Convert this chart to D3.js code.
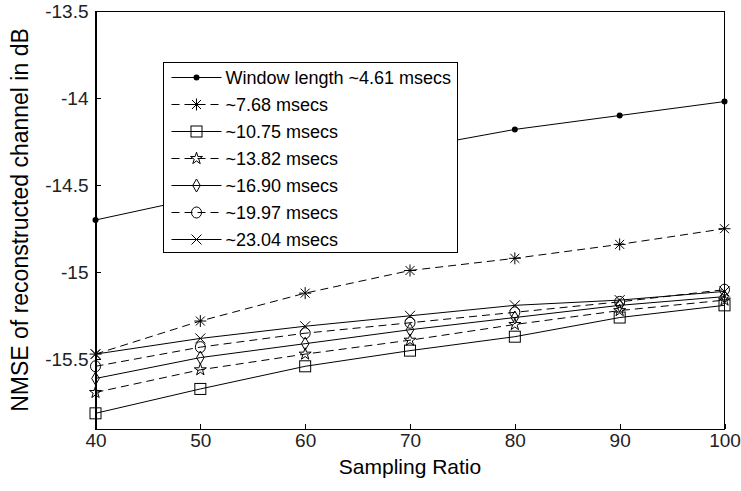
<!DOCTYPE html>
<html>
<head>
<meta charset="utf-8">
<script src="https://cdnjs.cloudflare.com/ajax/libs/d3/7.8.5/d3.min.js"></script>
<style>
  body { margin: 0; background: #fff; }
  svg { display: block; font-family: Arial, "Liberation Sans", sans-serif; }
  .axis text { font-size: 19px; fill: #222; }
  .axis path, .axis line { stroke: #000; shape-rendering: crispEdges; }
  .axisTitle { font-size: 21px; fill: #000; }
  .legend text { font-size: 18px; fill: #000; }
  .series { fill: none; stroke: #000; stroke-width: 1; }
</style>
</head>
<body>
<div id="chart"></div>
<script>
// sampling ratio on the x axis
var samplingRatio = [40, 50, 60, 70, 80, 90, 100];

// NMSE (dB) for each window length
var win461 = [-14.70, -14.57, -14.43, -14.29, -14.18, -14.10, -14.02];
var win768 = [-15.47, -15.28, -15.12, -14.99, -14.92, -14.84, -14.75];
var win1075 = [-15.81, -15.67, -15.54, -15.45, -15.37, -15.26, -15.19];
var win1382 = [-15.69, -15.56, -15.47, -15.39, -15.30, -15.22, -15.16];
var win1690 = [-15.61, -15.49, -15.41, -15.33, -15.26, -15.19, -15.14];
var win1997 = [-15.54, -15.43, -15.35, -15.29, -15.23, -15.17, -15.10];
var win2304 = [-15.47, -15.38, -15.31, -15.25, -15.19, -15.16, -15.11];

var legendLabels = [
  "Window length ~4.61 msecs",
  "~7.68 msecs",
  "~10.75 msecs",
  "~13.82 msecs",
  "~16.90 msecs",
  "~19.97 msecs",
  "~23.04 msecs"
];
var markerTypes = ["dot", "asterisk", "square", "star", "diamond", "circle", "cross"];
var dashed = [false, true, false, true, false, true, false];

var xTicks = [40, 50, 60, 70, 80, 90, 100];
var yTicks = [-13.5, -14, -14.5, -15, -15.5];
var xDomain = [40, 100];
var yDomain = [-15.9, -13.5];

(function() {
  var margin = { top: 11, left: 95.5, right: 16.5, bottom: 62 }
  var widthSvg = 741
  var heightSvg = 491
  var widthScale = widthSvg - margin.left - margin.right
  var heightScale = heightSvg - margin.top - margin.bottom

  var allSeries = [win461, win768, win1075, win1382, win1690, win1997, win2304]

  var mainSvg = d3.select("#chart").append("svg")
    .attr("width", widthSvg)
    .attr("height", heightSvg)

  var mainG = mainSvg.append("g")
    .attr("transform", "translate(" + margin.left + "," + margin.top + ")")

  var xPositionScale = d3.scaleLinear().domain(xDomain).range([0, widthScale])
  var yPositionScale = d3.scaleLinear().domain(yDomain).range([heightScale, 0])

  function drawMarker(g, type) {
    if (type === "dot") {
      g.append("circle").attr("r", 3).attr("fill", "#000")
    } else if (type === "asterisk") {
      g.append("path").attr("d", "M-6,0H6M0,-6V6M-4.5,-4.5L4.5,4.5M-4.5,4.5L4.5,-4.5")
        .attr("stroke", "#000").attr("fill", "none")
    } else if (type === "square") {
      g.append("rect").attr("x", -5.5).attr("y", -5.5).attr("width", 11).attr("height", 11)
        .attr("stroke", "#000").attr("fill", "none")
    } else if (type === "star") {
      g.append("path").attr("d", d3.symbol().type(d3.symbolStar).size(45)())
        .attr("stroke", "#000").attr("fill", "none")
    } else if (type === "diamond") {
      g.append("path").attr("d", "M0,-6.5L3.8,0L0,6.5L-3.8,0Z")
        .attr("stroke", "#000").attr("fill", "none")
    } else if (type === "circle") {
      g.append("ellipse").attr("rx", 5).attr("ry", 5.5)
        .attr("stroke", "#000").attr("fill", "none")
    } else if (type === "cross") {
      g.append("path").attr("d", "M-5,-5L5,5M-5,5L5,-5")
        .attr("stroke", "#000").attr("fill", "none")
    }
  }

  generateAxes()
  generateLines()
  generateLegend()
  generateTitles()

  function generateAxes() {
    var xAxis = d3.axisBottom(xPositionScale)
      .tickValues(xTicks)
      .tickSizeInner(-5)
      .tickSizeOuter(0)
      .tickPadding(5)
    mainG.append("g")
      .attr("class", "axis x-axis")
      .attr("transform", "translate(0," + heightScale + ")")
      .call(xAxis)

    var yAxis = d3.axisLeft(yPositionScale)
      .tickValues(yTicks)
      .tickSizeInner(-5)
      .tickSizeOuter(0)
      .tickPadding(7)
      .tickFormat(function(d) { return String(d) })
    mainG.append("g")
      .attr("class", "axis y-axis")
      .call(yAxis)

    // box frame
    mainG.append("rect")
      .attr("width", widthScale)
      .attr("height", heightScale)
      .attr("fill", "none")
      .attr("stroke", "#000")
      .attr("shape-rendering", "crispEdges")
  }

  function generateLines() {
    var line = d3.line()
      .x(function(d, i) { return xPositionScale(samplingRatio[i]) })
      .y(function(d) { return yPositionScale(d) })

    allSeries.forEach(function(values, k) {
      mainG.append("path")
        .datum(values)
        .attr("class", "series")
        .attr("stroke-dasharray", dashed[k] ? "8,5" : null)
        .attr("d", line)

      values.forEach(function(v, i) {
        var g = mainG.append("g")
          .attr("transform", "translate(" + xPositionScale(samplingRatio[i]) + "," + yPositionScale(v) + ")")
        drawMarker(g, markerTypes[k])
      })
    })
  }

  function generateLegend() {
    var legend = mainSvg.append("g")
      .attr("class", "legend")
      .attr("transform", "translate(163.5,62.5)")

    legend.append("rect")
      .attr("width", 294)
      .attr("height", 190)
      .attr("fill", "#fff")
      .attr("stroke", "#000")

    legendLabels.forEach(function(label, k) {
      var row = legend.append("g")
        .attr("transform", "translate(0," + (15 + k * 27) + ")")
      row.append("path")
        .attr("d", "M8,0H58")
        .attr("class", "series")
        .attr("stroke-dasharray", dashed[k] ? "8,5" : null)
      var m = row.append("g").attr("transform", "translate(33,0)")
      drawMarker(m, markerTypes[k])
      row.append("text")
        .attr("x", 62)
        .attr("dy", "0.35em")
        .text(label)
    })
  }

  function generateTitles() {
    mainSvg.append("text")
      .attr("class", "axisTitle")
      .attr("text-anchor", "middle")
      .attr("x", margin.left + widthScale / 2)
      .attr("y", 474)
      .text("Sampling Ratio")

    mainSvg.append("text")
      .attr("class", "axisTitle")
      .attr("text-anchor", "middle")
      .style("font-size", "23px")
      .attr("transform", "translate(28," + (margin.top + heightScale / 2) + ") rotate(-90)")
      .text("NMSE of reconstructed channel in dB")
  }
})();
</script>
</body>
</html>
